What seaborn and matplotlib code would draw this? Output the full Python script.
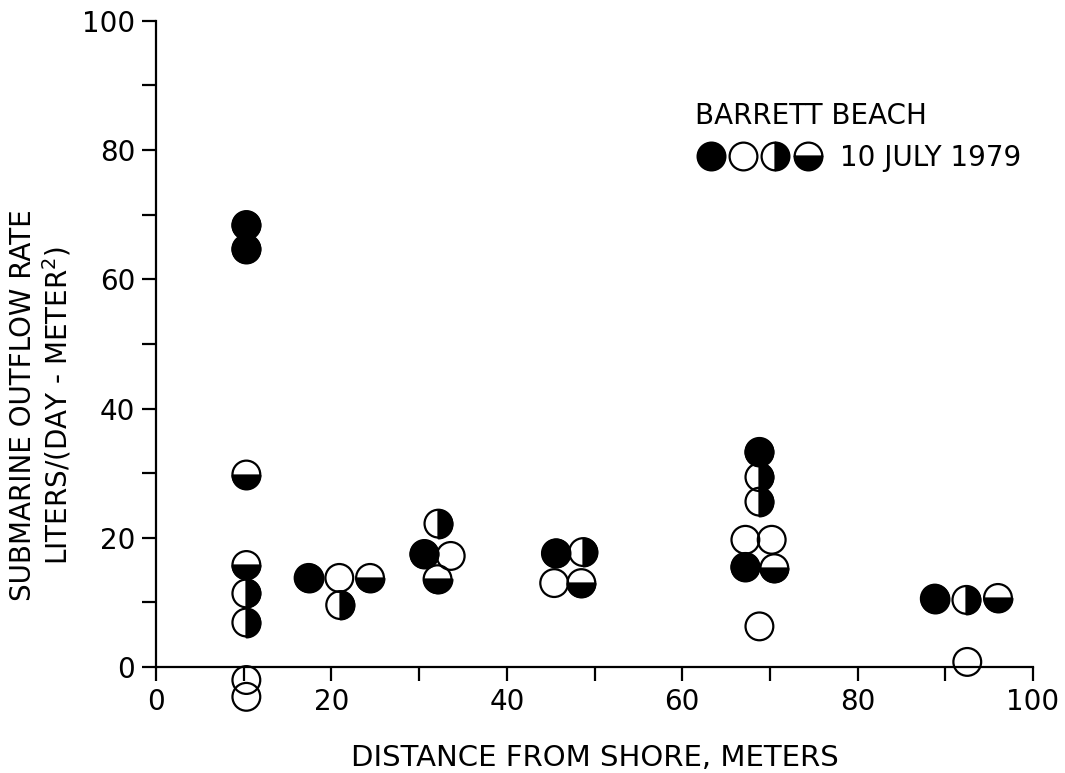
import matplotlib
matplotlib.use("Agg")
import matplotlib.pyplot as plt
from matplotlib.markers import MarkerStyle
from matplotlib.lines import Line2D
from matplotlib.legend_handler import HandlerTuple
import pandas as pd
import seaborn as sns

# values (distance m, outflow L/day/m2)
filled_dist = [10.3, 10.3, 17.4, 30.6, 45.6, 68.8, 67.2, 88.8]
filled_rate = [68.4, 64.7, 13.8, 17.5, 17.6, 33.3, 15.5, 10.6]

open_dist = [10.3, 10.3, 20.9, 33.6, 45.4, 67.2, 70.2, 68.8, 92.5]
open_rate = [-2.0, -4.6, 13.8, 17.2, 13.0, 19.7, 19.7, 6.3, 0.8]

right_dist = [10.3, 10.3, 21.0, 32.2, 48.7, 68.8, 68.8, 92.4]
right_rate = [11.4, 6.9, 9.6, 22.2, 17.8, 29.4, 25.6, 10.4]

bottom_dist = [10.3, 10.3, 24.4, 32.1, 48.5, 70.5, 96.0]
bottom_rate = [29.8, 15.8, 13.8, 13.6, 13.0, 15.3, 10.7]

frames = []
for kind, xs, ys in [("full", filled_dist, filled_rate),
                     ("none", open_dist, open_rate),
                     ("right", right_dist, right_rate),
                     ("bottom", bottom_dist, bottom_rate)]:
    frames.append(pd.DataFrame({"dist": xs, "rate": ys, "kind": kind}))
df = pd.concat(frames, ignore_index=True)

sns.set_style("ticks")
plt.rcParams["font.family"] = ["DejaVu Sans"]
plt.rcParams["mathtext.default"] = "regular"
for key in ["text.color", "axes.labelcolor", "xtick.color", "ytick.color",
            "axes.edgecolor"]:
    plt.rcParams[key] = "black"

fig = plt.figure(figsize=(10.65, 7.73), dpi=100)
ax = fig.add_axes([0.1465, 0.137, 0.8235, 0.836])

SIZE = 400
LW = 1.6

# outlines for every sample
sns.scatterplot(data=df, x="dist", y="rate", marker="o", s=SIZE,
                facecolors="none", edgecolor="black", linewidth=LW,
                clip_on=False, zorder=3, legend=False, ax=ax)

# black fill, whole or half
for fs in ["full", "right", "bottom"]:
    sub = df[df["kind"] == fs]
    sns.scatterplot(data=sub, x="dist", y="rate",
                    marker=MarkerStyle("o", fillstyle=fs), s=SIZE,
                    color="black", edgecolor="black", linewidth=LW,
                    clip_on=False, zorder=4, legend=False, ax=ax)

ax.set_xlim(0, 100)
ax.set_ylim(0, 100)
ax.set_xticks(range(0, 101, 20))
ax.set_xticks(range(10, 100, 20), minor=True)
ax.set_yticks(range(0, 101, 20))
ax.set_yticks(range(10, 100, 20), minor=True)
ax.set_xticklabels(["0", "20", "40", "60", "80", "100"])
ax.tick_params(which="both", direction="out", length=10, width=LW,
               labelsize=20, pad=5)
for s in ["left", "bottom"]:
    ax.spines[s].set_linewidth(LW)
sns.despine(ax=ax)

ax.set_xlabel("DISTANCE FROM SHORE, METERS", fontsize=21, labelpad=20)
ax.set_ylabel("SUBMARINE OUTFLOW RATE\nLITERS/(DAY - METER$^2$)",
              fontsize=20, linespacing=1.15)
ax.yaxis.set_label_coords(-0.094, 0.405)

# legend block
mk = dict(ls="none", marker="o", markersize=20, mec="black", mew=LW)
handles = (Line2D([], [], mfc="black", **mk),
           Line2D([], [], mfc="white", **mk),
           Line2D([], [], mfc="black", mfcalt="white", fillstyle="right", **mk),
           Line2D([], [], mfc="black", mfcalt="white", fillstyle="bottom", **mk))
leg = ax.legend([handles], ["10 JULY 1979"], title="BARRETT BEACH",
                handler_map={tuple: HandlerTuple(ndivide=None, pad=0.05)},
                handlelength=4.6, handletextpad=0.6, frameon=False,
                fontsize=20, title_fontsize=20, alignment="left",
                loc="upper left", bbox_to_anchor=(0.615, 0.875),
                borderpad=0, borderaxespad=0)

fig.savefig("out.png", dpi=100)
